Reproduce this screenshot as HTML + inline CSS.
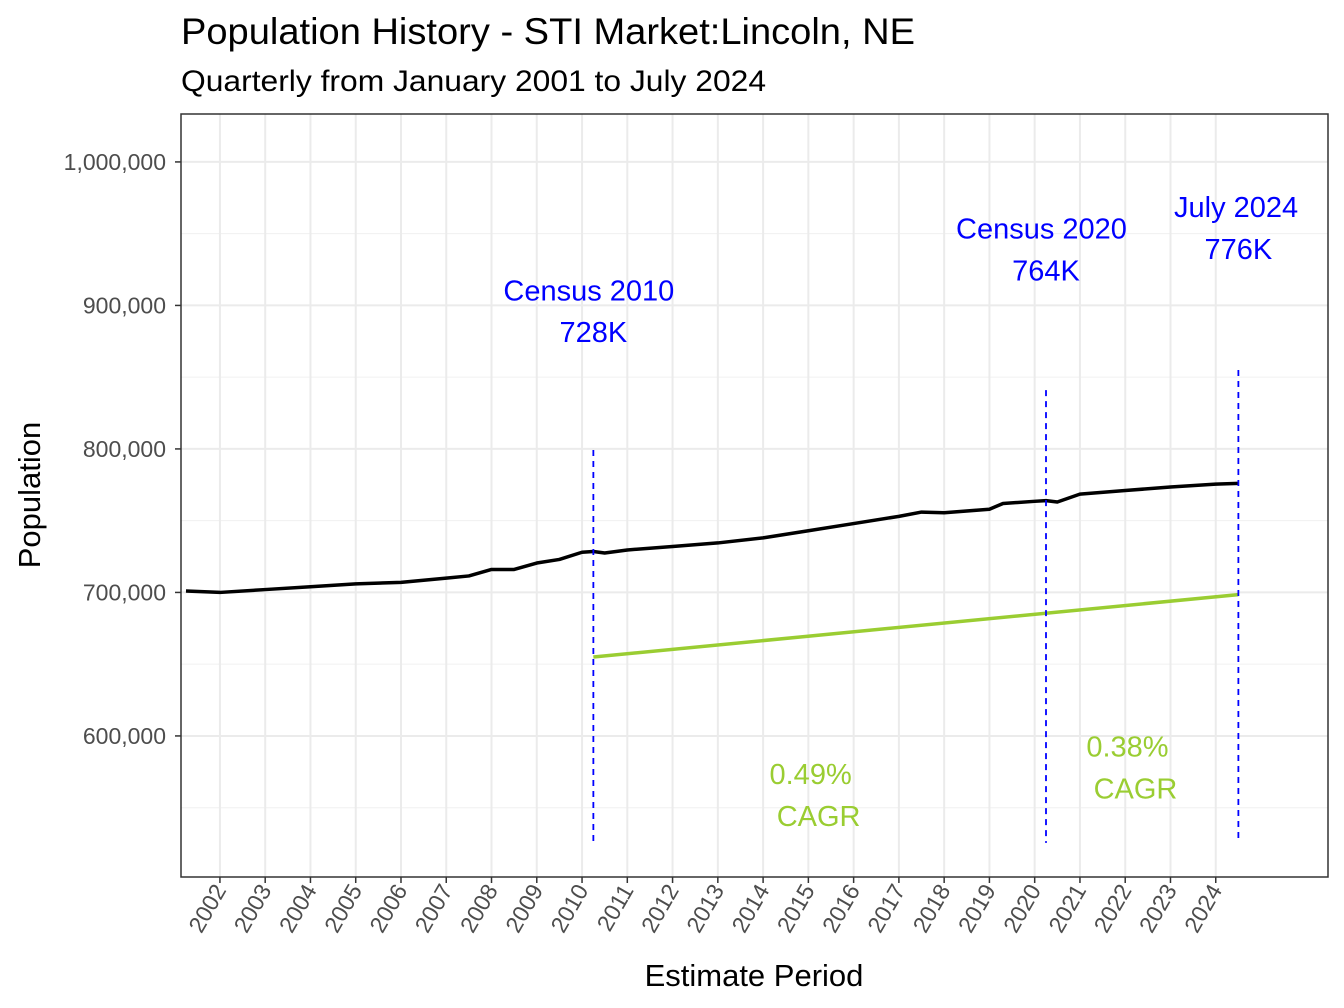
<!DOCTYPE html>
<html><head><meta charset="utf-8"><style>
body{margin:0;background:#fff}
svg{display:block;font-family:"Liberation Sans",Arial,sans-serif}
</style></head><body>
<svg id="chart" width="1344" height="1008" viewBox="0 0 1344 1008">
<rect width="1344" height="1008" fill="#fff"/>
<text x="181" y="44" font-size="37" fill="#000" textLength="734" lengthAdjust="spacingAndGlyphs">Population History - STI Market:Lincoln, NE</text>
<text x="181" y="91" font-size="30" fill="#000" textLength="585" lengthAdjust="spacingAndGlyphs">Quarterly from January 2001 to July 2024</text>
<g id="grid"></g>
<g id="marks"></g>
<rect x="181" y="114" width="1147" height="763" fill="none" stroke="#333" stroke-width="1.5"/>
<g id="axes"></g>
<text x="754" y="986" font-size="31" text-anchor="middle">Estimate Period</text>
<text transform="translate(40,495) rotate(-90)" font-size="31" text-anchor="middle">Population</text>
</svg>
<script>
const years = [2001.25,2002,2003,2004,2005,2006,2007,2007.5,2008,2008.5,2009,2009.5,2010,2010.25,2010.5,2011,2012,2013,2014,2015,2016,2017,2017.5,2018,2019,2019.3,2020,2020.25,2020.5,2021,2022,2023,2024,2024.5];
const population = [701000,700000,702000,704000,706000,707000,710000,711500,716000,716000,720500,723000,728000,728500,727500,729600,732000,734500,738000,743000,748000,753000,756000,755500,758000,762000,763500,764000,763000,768500,771000,773500,775500,776000];
const cagrYears = [2010.25,2024.5];
const cagrValues = [655000,698500];
const yTicks = [600000,700000,800000,900000,1000000];
const yMinor = [550000,650000,750000,850000,950000];
const xTicks = [2002,2003,2004,2005,2006,2007,2008,2009,2010,2011,2012,2013,2014,2015,2016,2017,2018,2019,2020,2021,2022,2023,2024];
const markerYears = [2010.25,2020.25,2024.5];
const markerTops = [799300,841000,855000];
const markerBottom = 525500;
const labelLines1 = ["Census 2010","Census 2020","July 2024"];
const labelLines2 = ["728K","764K","776K"];
const labelValues1 = [903500,946500,961500];
const labelValues2 = [874500,917500,932500];
const labelYearOffsets = [-0.1,-0.1,-0.05];
const cagrText = ["0.49%","0.38%"];
const cagrLabelYears = [2015.05,2022.05];
const cagrLabelValues = [566500,585500];

const X0=181,X1=1328,Y0=114,Y1=877;
const xMin=2001.14,xMax=2026.48,yMin=501700,yMax=1033400;
const x=v=>X0+(v-xMin)/(xMax-xMin)*(X1-X0);
const y=v=>Y1-(v-yMin)/(yMax-yMin)*(Y1-Y0);
const NS="http://www.w3.org/2000/svg";
function mk(tag,attrs,parent,txt){const e=document.createElementNS(NS,tag);for(const k in attrs)e.setAttribute(k,attrs[k]);if(txt!==undefined)e.textContent=txt;parent.appendChild(e);return e;}
const grid=document.getElementById('grid'),marks=document.getElementById('marks'),axes=document.getElementById('axes');
yMinor.forEach(v=>{const l=mk('line',{x1:X0,x2:X1,y1:y(v),y2:y(v),stroke:'#f0f0f0','stroke-width':1},grid);

});
xTicks.forEach(v=>{const l=mk('line',{x1:x(v),x2:x(v),y1:Y0,y2:Y1,stroke:'#ebebeb','stroke-width':2},grid);


const t=mk('line',{x1:x(v),x2:x(v),y1:Y1,y2:Y1+6,stroke:'#333','stroke-width':1.5},axes);


const tx=mk('text',{transform:`translate(${x(v)+7},${Y1+13}) rotate(-60)`,'font-size':23,fill:'#4d4d4d','text-anchor':'end'},axes,String(v));

});
yTicks.forEach(v=>{const l=mk('line',{x1:X0,x2:X1,y1:y(v),y2:y(v),stroke:'#ebebeb','stroke-width':2},grid);


const t=mk('line',{x1:X0-6,x2:X0,y1:y(v),y2:y(v),stroke:'#333','stroke-width':1.5},axes);


const tx=mk('text',{x:X0-15,y:y(v)+8,'font-size':23,fill:'#4d4d4d','text-anchor':'end'},axes,v.toLocaleString('en-US'));

});
const pl=mk('polyline',{points:years.map((v,i)=>x(v)+','+y(population[i])).join(' '),fill:'none',stroke:'#000','stroke-width':3.5,'stroke-linejoin':'round'},marks);


const cg=mk('polyline',{points:cagrYears.map((v,i)=>x(v)+','+y(cagrValues[i])).join(' '),fill:'none',stroke:'#9acd32','stroke-width':3.5},marks);


markerYears.forEach((v,i)=>{const l=mk('line',{x1:x(v),x2:x(v),y1:y(markerTops[i]),y2:y(markerBottom),stroke:'#0000ff','stroke-width':1.8,'stroke-dasharray':'6,5'},marks);


const a=mk('text',{x:x(v+labelYearOffsets[i]),y:y(labelValues1[i]),'font-size':29,fill:'#0000ff','text-anchor':'middle'},marks,labelLines1[i]);


const b=mk('text',{x:x(v),y:y(labelValues2[i]),'font-size':29,fill:'#0000ff','text-anchor':'middle'},marks,labelLines2[i]);

});
cagrText.forEach((s,i)=>{const a=mk('text',{x:x(cagrLabelYears[i]),y:y(cagrLabelValues[i]),'font-size':29,fill:'#9acd32','text-anchor':'middle'},marks,s);


const b=mk('text',{x:x(cagrLabelYears[i])+8,y:y(cagrLabelValues[i])+42,'font-size':29,fill:'#9acd32','text-anchor':'middle'},marks,'CAGR');

});
</script>
</body></html>
